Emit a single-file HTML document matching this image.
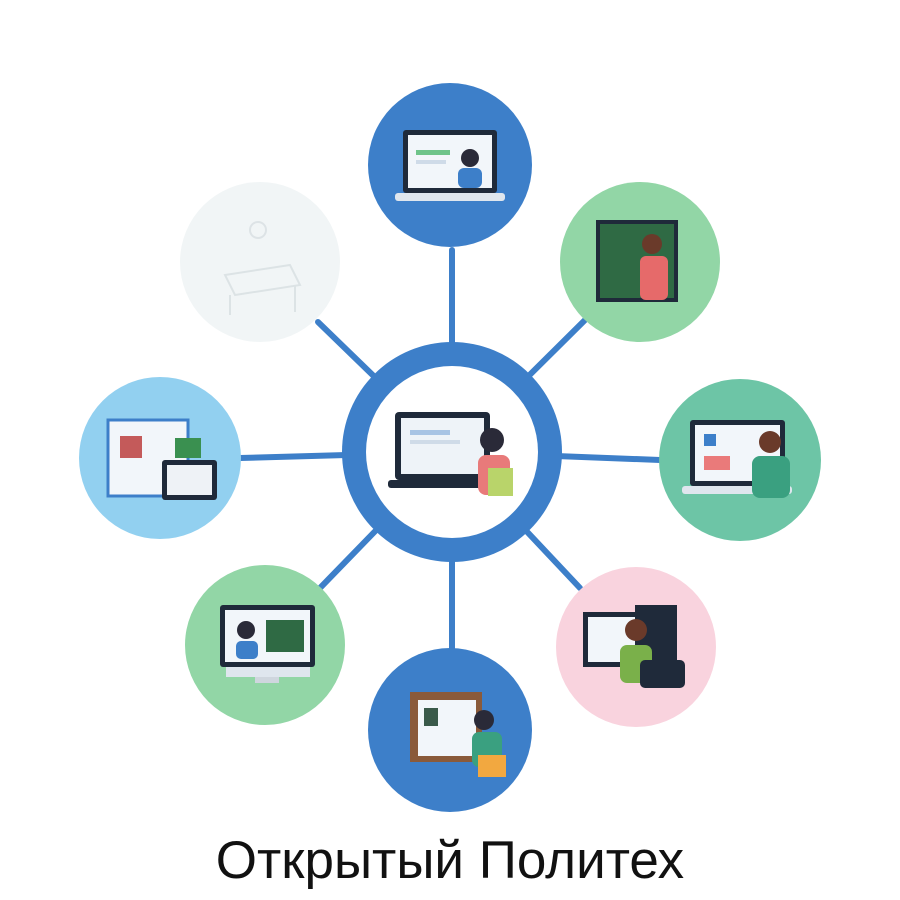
<!DOCTYPE html>
<html><head><meta charset="utf-8"><style>
html,body{margin:0;padding:0;background:#fff;width:900px;height:900px;overflow:hidden}
</style></head><body>
<svg width="900" height="900" viewBox="0 0 900 900" xmlns="http://www.w3.org/2000/svg">
<g stroke="#3d7fc9" stroke-width="6" stroke-linecap="round">
<line x1="452" y1="452" x2="452" y2="250"/>
<line x1="452" y1="452" x2="585" y2="320"/>
<line x1="452" y1="452" x2="660" y2="460"/>
<line x1="452" y1="452" x2="580" y2="588"/>
<line x1="452" y1="452" x2="452" y2="650"/>
<line x1="452" y1="452" x2="320" y2="588"/>
<line x1="452" y1="452" x2="240" y2="458"/>
<line x1="452" y1="452" x2="318" y2="322"/>
</g>
<circle cx="450" cy="165" r="82" fill="#3d7fc9"/>
<circle cx="640" cy="262" r="80" fill="#92d6a6"/>
<circle cx="740" cy="460" r="81" fill="#6dc5a6"/>
<circle cx="636" cy="647" r="80" fill="#f9d3de"/>
<circle cx="450" cy="730" r="82" fill="#3d7fc9"/>
<circle cx="265" cy="645" r="80" fill="#92d6a6"/>
<circle cx="160" cy="458" r="81" fill="#92d0f0"/>
<circle cx="260" cy="262" r="80" fill="#f1f5f6"/>
<circle cx="452" cy="452" r="110" fill="#3d7fc9"/>
<circle cx="452" cy="452" r="86" fill="#fff"/>
<rect x="395" y="412" width="95" height="68" rx="4" fill="#1f2a3a"/>
<rect x="401" y="418" width="83" height="56" fill="#eef3f8"/>
<rect x="388" y="480" width="110" height="8" rx="3" fill="#1f2a3a"/>
<rect x="410" y="430" width="40" height="5" fill="#a8c4e4"/>
<rect x="410" y="440" width="50" height="4" fill="#cfdbe8"/>
<circle cx="492" cy="440" r="12" fill="#2a2a38"/>
<rect x="478" y="455" width="32" height="40" rx="8" fill="#e87a7a"/>
<rect x="488" y="468" width="25" height="28" fill="#b9d46a"/>
<rect x="403" y="130" width="94" height="63" rx="3" fill="#1f2a3a"/>
<rect x="408" y="135" width="84" height="53" fill="#f2f6fa"/>
<rect x="395" y="193" width="110" height="8" rx="3" fill="#dfe6ee"/>
<rect x="416" y="150" width="34" height="5" fill="#6fc48a"/>
<rect x="416" y="160" width="30" height="4" fill="#cfdbe8"/>
<circle cx="470" cy="158" r="9" fill="#2a2a38"/>
<rect x="458" y="168" width="24" height="20" rx="6" fill="#3d7fc9"/>
<rect x="598" y="222" width="78" height="78" fill="#2f6a44" stroke="#1f2a3a" stroke-width="4"/>
<circle cx="652" cy="244" r="10" fill="#6a3a2a"/>
<rect x="640" y="256" width="28" height="44" rx="6" fill="#e66a6a"/>
<rect x="690" y="420" width="95" height="66" rx="3" fill="#1f2a3a"/>
<rect x="695" y="425" width="85" height="56" fill="#f2f6fa"/>
<rect x="682" y="486" width="110" height="8" rx="3" fill="#dfe6ee"/>
<rect x="704" y="434" width="12" height="12" fill="#3d7fc9"/>
<rect x="704" y="456" width="26" height="14" fill="#ea7a7a"/>
<circle cx="770" cy="442" r="11" fill="#6a3a2a"/>
<rect x="752" y="456" width="38" height="42" rx="8" fill="#3aa080"/>
<rect x="583" y="612" width="72" height="55" fill="#1f2a3a"/>
<rect x="588" y="617" width="62" height="45" fill="#f2f6fa"/>
<rect x="635" y="605" width="42" height="60" fill="#1f2a3a"/>
<circle cx="636" cy="630" r="11" fill="#6a3a2a"/>
<rect x="620" y="645" width="32" height="38" rx="7" fill="#7ab04a"/>
<rect x="640" y="660" width="45" height="28" rx="5" fill="#1f2a3a"/>
<rect x="410" y="692" width="72" height="70" fill="#8a5a3a"/>
<rect x="418" y="700" width="58" height="56" fill="#f2f6fa"/>
<rect x="424" y="708" width="14" height="18" fill="#3a5a4a"/>
<circle cx="484" cy="720" r="10" fill="#2a2a38"/>
<rect x="472" y="732" width="30" height="35" rx="7" fill="#3aa080"/>
<rect x="478" y="755" width="28" height="22" fill="#f2a840"/>
<rect x="220" y="605" width="95" height="62" rx="3" fill="#1f2a3a"/>
<rect x="225" y="610" width="85" height="52" fill="#f2f6fa"/>
<rect x="226" y="667" width="84" height="10" fill="#dfe6ee"/>
<rect x="255" y="677" width="24" height="6" fill="#cfd6de"/>
<circle cx="246" cy="630" r="9" fill="#2a2a38"/>
<rect x="236" y="641" width="22" height="18" rx="5" fill="#3d7fc9"/>
<rect x="266" y="620" width="38" height="32" fill="#2f6a44"/>
<rect x="108" y="420" width="80" height="76" fill="#f2f6fa" stroke="#3d7fc9" stroke-width="3"/>
<rect x="120" y="436" width="22" height="22" fill="#c45a5a"/>
<rect x="175" y="438" width="26" height="20" fill="#3a9050"/>
<rect x="162" y="460" width="55" height="40" rx="3" fill="#1f2a3a"/>
<rect x="167" y="465" width="45" height="30" fill="#eef2f6"/>
<g opacity="0.35" fill="none" stroke="#b8c2c8" stroke-width="2">
<circle cx="258" cy="230" r="8"/>
<path d="M225 275 L290 265 L300 285 L235 295 Z"/>
<path d="M230 295 L230 315 M295 285 L295 312"/>
</g>
<text x="450" y="878" text-anchor="middle" font-family="Liberation Sans, sans-serif" font-size="53" fill="#111">Открытый Политех</text>
</svg>
</body></html>
